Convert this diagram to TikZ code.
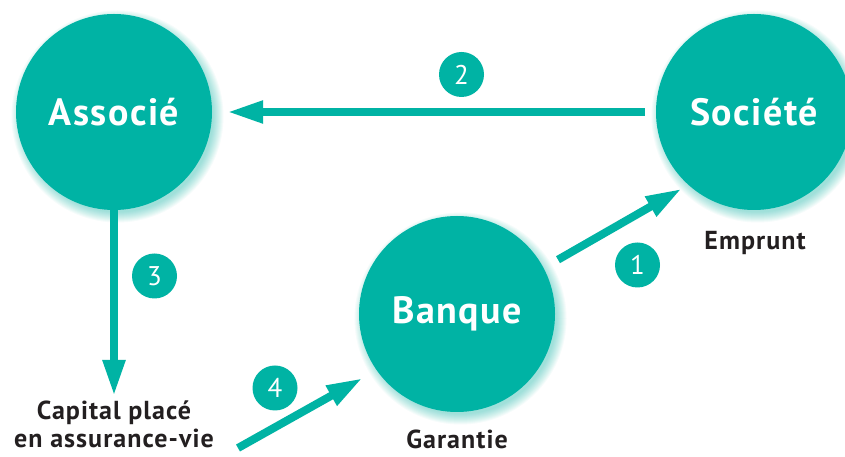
\documentclass[tikz,border=0pt]{standalone}
\usepackage{fontspec}
\setmainfont{PT Sans}
\newfontfamily\widesans[LetterSpace=4]{PT Sans}
\usetikzlibrary{arrows.meta,calc,backgrounds}
\definecolor{teal}{RGB}{0,179,164}
\definecolor{ink}{RGB}{35,31,32}
\tikzset{
  party/.style={circle, fill=teal, minimum size=196pt, inner sep=0pt,
    text=white, font=\widesans\bfseries\fontsize{38}{40}\selectfont},
  badge/.style={circle, fill=teal, minimum size=45pt, inner sep=0pt,
    text=white, font=\fontsize{27}{29}\selectfont},
  caption/.style={text=ink, inner sep=0pt, align=center,
    font=\widesans\bfseries\fontsize{26}{28}\selectfont},
  flow/.style={draw=teal, line width=8pt,
    -{Triangle[length=36pt,width=21pt]}},
}
\begin{document}
\begin{tikzpicture}[x=1pt,y=1pt]
  \useasboundingbox (0,0) rectangle (845,457);
  \clip (0,0) rectangle (845,457);

  % the three parties
  \node[party] (associe) at (114,345) {Associé};
  \node[party] (societe) at (754,345) {Société};
  \node[party] (banque)  at (457,143) {Banque};

  % captions
  \node[caption, anchor=north] (capital) at (114,56) {Capital placé\\en assurance-vie};
  \node[caption, anchor=base] (emprunt) at (755,207) {Emprunt};
  \node[caption, anchor=base] (garantie) at (457,8) {Garantie};

  % numbered steps
  \node[badge] (n1) at (637.5,192) {1};
  \node[badge] (n2) at (461.5,382.5) {2};
  \node[badge] (n3) at (154.5,181) {3};
  \node[badge] (n4) at (275,69) {4};

  % flows
  \coordinate (start4) at (238,9);
  \draw[flow, shorten <=16.5pt, shorten >=7.5pt] (banque.28) -- (societe.228);
  \draw[flow, shorten <=11pt, shorten >=15pt] (societe.west) -- (associe.east);
  \draw[flow, shorten >=5pt] (associe.south) -- (associe.south |- capital.north);
  \draw[flow, shorten >=16pt] (start4) -- (banque.215);

  % soft glow behind the parties, falling towards the lower right
  \begin{pgfonlayer}{background}
    \fill[white] (0,0) rectangle (845,457);
    \foreach \n in {associe,societe,banque}
      \foreach \k in {1,...,11}
        \fill[teal, opacity=0.04] ($(\n)+(3.5,-4.5)$) circle[radius=95+\k];
  \end{pgfonlayer}
\end{tikzpicture}
\end{document}
